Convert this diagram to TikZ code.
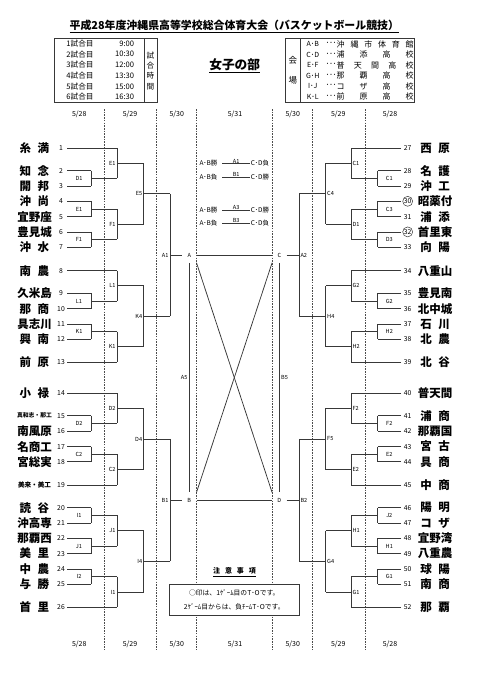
\documentclass[tikz,border=0pt]{standalone}
\usepackage{fontspec}
\setmainfont{Noto Sans CJK JP}
\newcommand{\wsp}{\hspace{6.5pt}}
% one game of the bracket: x of the vertical, its two ends, x where the winner line stops
\newcommand{\bout}[7]{%
  \draw[line] (#1,#2) -- (#1,#3);
  \draw[line] (#1,{(#2+#3)/2}) -- (#4,{(#2+#3)/2});
  \node[lab,#6] (#7) at (#1,{(#2+#3)/2}) {#5};}

\begin{document}
\begin{tikzpicture}[x=1pt,y=-1pt,
    line/.style={draw=black!78,line width=0.75pt},
    thinline/.style={draw=black!78,line width=0.6pt},
    sep/.style={draw=black!70,line width=0.45pt,dash pattern=on 1.6pt off 1.1pt},
    team/.style={font=\fontsize{11.5}{12}\selectfont\bfseries,inner sep=0pt},
    num/.style={font=\fontsize{6.8}{7}\selectfont,inner sep=0.5pt},
    circ/.style={draw=black!78,circle,line width=0.5pt,minimum size=10pt,inner sep=0pt},
    nocirc/.style={},
    lab/.style={font=\fontsize{5.6}{6}\selectfont,inner sep=0.5pt},
    lab2/.style={font=\fontsize{6.5}{7}\selectfont,inner sep=0.5pt},
    hub/.style={lab,minimum width=14pt,minimum height=15pt},
    labL/.style={anchor=east,xshift=-0.8pt},
    labR/.style={anchor=west,xshift=0.8pt},
    labL1/.style={xshift=-12pt},
    labR1/.style={xshift=11.6pt},
    date/.style={font=\fontsize{7}{8}\selectfont,inner sep=0pt},
    tbl/.style={font=\fontsize{7.6}{8}\selectfont,inner sep=0pt},
  ]
  \useasboundingbox (0,0) rectangle (481,680);

  \node[font=\fontsize{10.9}{12}\selectfont\bfseries] (title) at (234.3,26)
    {\underline{平成28年度沖縄県高等学校総合体育大会（バスケットボール競技）}};
  \node[font=\fontsize{12.7}{14}\selectfont\bfseries] (bu) at (234.7,66) {\underline{女子の部}};

  % game times
  \draw[line] (54,38.5) rectangle (157,102);
  \draw[line] (144,38.5) -- (144,102);
  \foreach \i/\t in {1/9:00,2/10:30,3/12:00,4/13:30,5/15:00,6/16:30}{
    \node[tbl] (g\i) at (80,{43.5+10.7*(\i-1)}) {{\i}試合目};
    \node[tbl,anchor=east] (h\i) at (134.3,{43.5+10.7*(\i-1)}) {\t};
  }
  \node[tbl,align=center,font=\fontsize{7.6}{10.2}\selectfont] (jikan) at (150.5,71) {試\\合\\時\\間};

  % venues
  \draw[line] (285.7,38.5) rectangle (414,102);
  \draw[line] (300,38.5) -- (300,102);
  \node[tbl,align=center,font=\fontsize{8.5}{20}\selectfont] (kaijo) at (292.8,70) {会\\場};
  \foreach \i/\p/\v in {1/A･B/{沖\hfill 縄\hfill 市\hfill 体\hfill 育\hfill 館},
                        2/C･D/{浦\hfill 添\hfill 高\hfill 校},
                        3/E･F/{普\hfill 天\hfill 間\hfill 高\hfill 校},
                        4/G･H/{那\hfill 覇\hfill 高\hfill 校},
                        5/I･J/{コ\hfill ザ\hfill 高\hfill 校},
                        6/K･L/{前\hfill 原\hfill 高\hfill 校}}{
    \node[tbl,font=\fontsize{7}{8}\selectfont] (p\i) at (312.8,{44.3+10.5*(\i-1)}) {\p};
    \node[tbl,font=\fontsize{7}{8}\selectfont] (d\i) at (331,{44.3+10.5*(\i-1)}) {･･･};
    \node[tbl,font=\fontsize{8}{9}\selectfont,anchor=west] (v\i) at (336.5,{44.3+10.5*(\i-1)})
      {\makebox[77pt][l]{\v}};
  }

  % days
  \foreach \i/\x/\d in {1/79.3/{5/28},2/130/{5/29},3/176.7/{5/30},4/235/{5/31},
                        5/292.7/{5/30},6/338.3/{5/29},7/390/{5/28}}{
    \node[date] (dt\i) at (\x,114.3) {\d};
    \node[date] (db\i) at (\x,644.3) {\d};
  }
  \foreach \x in {104.3,156.7,196,272.7,312.3,365}
    \draw[sep] (\x,109) -- (\x,650);

  % left half
  \foreach \k/\y/\nm/\xe in {1/148.3/{糸\wsp 満}/117, 2/170.7/{知\wsp 念}/91, 3/186/{開\wsp 邦}/91,
      4/201.3/{沖\wsp 尚}/91, 5/216.7/宜野座/91, 6/231.9/豊見城/91, 7/247/{沖\wsp 水}/91,
      8/270.7/{南\wsp 農}/117, 9/293.3/久米島/91, 10/308.7/{那\wsp 商}/91, 11/324/具志川/91,
      12/339.2/{興\wsp 南}/91, 13/362/{前\wsp 原}/117, 14/393.3/{小\wsp 禄}/117,
      15/415.7/{\fontsize{5.8}{6}\selectfont 真和志・那工}/91, 16/431/南風原/91,
      17/446.6/名商工/91, 18/461.8/宮総実/91,
      19/485/{\fontsize{6.6}{7}\selectfont 美来・美工}/117, 20/507.7/{読\wsp 谷}/91,
      21/523.2/沖高専/91, 22/538.4/那覇西/91, 23/553.6/{美\wsp 里}/91, 24/569/{中\wsp 農}/91,
      25/584.3/{与\wsp 勝}/91, 26/607.3/{首\wsp 里}/117}{
    \node[team] (t\k) at (34.5,\y) {\nm};
    \node[num] (n\k) at (61,\y) {\k};
    \draw[line] (67,\y) -- (\xe,\y);
  }
  \bout{91}{170.7}{186}{117}{D1}{labL1}{la1}
  \bout{91}{201.3}{216.7}{117}{E1}{labL1}{la2}
  \bout{91}{231.9}{247}{117}{F1}{labL1}{la3}
  \bout{91}{293.3}{308.7}{117}{L1}{labL1}{la4}
  \bout{91}{324}{339.2}{117}{K1}{labL1}{la5}
  \bout{91}{415.7}{431}{117}{D2}{labL1}{la6}
  \bout{91}{446.6}{461.8}{117}{C2}{labL1}{la7}
  \bout{91}{507.7}{523.2}{117}{I1}{labL1}{la8}
  \bout{91}{538.4}{553.6}{117}{J1}{labL1}{la9}
  \bout{91}{569}{584.3}{117}{I2}{labL1}{la10}
  \bout{117}{148.3}{178.35}{143.7}{E1}{labL}{lb1}
  \bout{117}{209}{239.45}{143.7}{F1}{labL}{lb2}
  \bout{117}{270.7}{301}{143.7}{L1}{labL}{lb3}
  \bout{117}{331.6}{362}{143.7}{K1}{labL}{lb4}
  \bout{117}{393.3}{423.35}{143.7}{D2}{labL}{lb5}
  \bout{117}{454.2}{485}{143.7}{C2}{labL}{lb6}
  \bout{117}{515.45}{546}{143.7}{J1}{labL}{lb7}
  \bout{117}{576.65}{607.3}{143.7}{I1}{labL}{lb8}
  \bout{143.7}{163.33}{224.23}{170}{E5}{labL}{lc1}
  \bout{143.7}{285.85}{346.8}{170}{K4}{labL}{lc2}
  \bout{143.7}{408.33}{469.6}{170}{D4}{labL}{lc3}
  \bout{143.7}{530.73}{591.98}{170}{I4}{labL}{lc4}
  \bout{170}{193.78}{316.33}{170}{A1}{labL}{ld1}
  \bout{170}{438.96}{561.35}{170}{B1}{labL}{ld2}

  % right half
  \foreach \k/\y/\nm/\xe/\o in {27/148.3/{西\wsp 原}/351/nocirc, 28/170.7/{名\wsp 護}/377.7/nocirc,
      29/186/{沖\wsp 工}/377.7/nocirc, 30/201.3/昭薬付/377.7/circ, 31/216.7/{浦\wsp 添}/377.7/nocirc,
      32/231.9/首里東/377.7/circ, 33/247/{向\wsp 陽}/377.7/nocirc, 34/270.7/八重山/351/nocirc,
      35/293.3/豊見南/377.7/nocirc, 36/308.7/北中城/377.7/nocirc, 37/324/{石\wsp 川}/377.7/nocirc,
      38/339.2/{北\wsp 農}/377.7/nocirc, 39/362/{北\wsp 谷}/351/nocirc, 40/393.3/普天間/351/nocirc,
      41/415.7/{浦\wsp 商}/377.7/nocirc, 42/431/那覇国/377.7/nocirc, 43/446.6/{宮\wsp 古}/377.7/nocirc,
      44/461.8/{具\wsp 商}/377.7/nocirc, 45/485/{中\wsp 商}/351/nocirc, 46/507.7/{陽\wsp 明}/377.7/nocirc,
      47/523.2/{コ\wsp ザ}/377.7/nocirc, 48/538.4/宜野湾/377.7/nocirc, 49/553.6/八重農/377.7/nocirc,
      50/569/{球\wsp 陽}/377.7/nocirc, 51/584.3/{南\wsp 商}/377.7/nocirc, 52/607.3/{那\wsp 覇}/351/nocirc}{
    \node[team] (t\k) at (435,\y) {\nm};
    \node[num,\o] (n\k) at (407.7,\y) {\k};
    \draw[line] (401,\y) -- (\xe,\y);
  }
  \bout{377.7}{170.7}{186}{351}{C1}{labR1}{ra1}
  \bout{377.7}{201.3}{216.7}{351}{C3}{labR1}{ra2}
  \bout{377.7}{231.9}{247}{351}{D3}{labR1}{ra3}
  \bout{377.7}{293.3}{308.7}{351}{G2}{labR1}{ra4}
  \bout{377.7}{324}{339.2}{351}{H2}{labR1}{ra5}
  \bout{377.7}{415.7}{431}{351}{F2}{labR1}{ra6}
  \bout{377.7}{446.6}{461.8}{351}{E2}{labR1}{ra7}
  \bout{377.7}{507.7}{523.2}{351}{J2}{labR1}{ra8}
  \bout{377.7}{538.4}{553.6}{351}{H1}{labR1}{ra9}
  \bout{377.7}{569}{584.3}{351}{G1}{labR1}{ra10}
  \bout{351}{148.3}{178.35}{325.7}{C1}{labR}{rb1}
  \bout{351}{209}{239.45}{325.7}{D1}{labR}{rb2}
  \bout{351}{270.7}{301}{325.7}{G2}{labR}{rb3}
  \bout{351}{331.6}{362}{325.7}{H2}{labR}{rb4}
  \bout{351}{393.3}{423.35}{325.7}{F2}{labR}{rb5}
  \bout{351}{454.2}{485}{325.7}{E2}{labR}{rb6}
  \bout{351}{515.45}{546}{325.7}{H1}{labR}{rb7}
  \bout{351}{576.65}{607.3}{325.7}{G1}{labR}{rb8}
  \bout{325.7}{163.33}{224.23}{299}{C4}{labR}{rc1}
  \bout{325.7}{285.85}{346.8}{299}{H4}{labR}{rc2}
  \bout{325.7}{408.33}{469.6}{299}{F5}{labR}{rc3}
  \bout{325.7}{530.73}{591.98}{299}{G4}{labR}{rc4}
  \bout{299}{193.78}{316.33}{299}{A2}{labR}{rd1}
  \bout{299}{438.96}{561.35}{299}{B2}{labR}{rd2}

  % final day
  \node[hub] (ta) at (189.3,255.05) {A};
  \node[hub] (tb) at (189.3,500.16) {B};
  \node[hub] (tc) at (279.3,255.05) {C};
  \node[hub] (td) at (279.3,500.16) {D};
  \draw[line] (170,255.05) -- (ta.west);
  \draw[line] (ta.east) -- (tc.west);
  \draw[line] (tc.east) -- (299,255.05);
  \draw[line] (170,500.16) -- (tb.west);
  \draw[line] (tb.east) -- (td.west);
  \draw[line] (td.east) -- (299,500.16);
  \draw[line] (ta.south) -- (tb.north) node[midway,lab,left=1pt] (a5) {A5};
  \draw[line] (tc.south) -- (td.north) node[midway,lab,right=1pt] (b5) {B5};
  \draw[line] (ta.south east) -- (td.north west);
  \draw[line] (tc.south west) -- (tb.north east);

  \foreach \r/\y/\w/\m/\l in {1/163.5/A･B勝/A1/C･D負, 2/177/A･B負/B1/C･D勝,
                              3/210.2/A･B勝/A3/C･D勝, 4/223.5/A･B負/B3/C･D負}{
    \node[lab2] (w\r) at (208.5,\y) {\w};
    \node[lab2] (u\r) at (260,\y) {\l};
    \draw[thinline] ([xshift=4pt]w\r.east) -- (u\r.west) node[midway,above=-0.3pt,lab] (m\r) {\m};
  }

  % notes
  \node[font=\fontsize{7}{8}\selectfont\bfseries] (chui) at (234.5,572)
    {\underline{注\hspace{5pt}意\hspace{5pt}事\hspace{5pt}項}};
  \node[draw=black!78,line width=0.75pt,fill=white,minimum width=130pt,minimum height=30.7pt,
        align=center,font=\fontsize{6.8}{14.6}\selectfont] (chuibox) at (234.3,599.7)
    {○印は、1ｹﾞｰﾑ目のT･Oです。\\2ｹﾞｰﾑ目からは、負ﾁｰﾑT･Oです。};
\end{tikzpicture}
\end{document}
